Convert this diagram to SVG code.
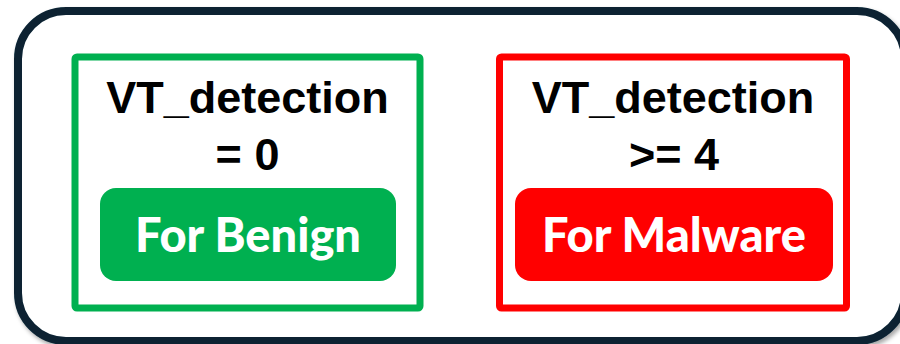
<svg xmlns="http://www.w3.org/2000/svg" width="900" height="344" viewBox="0 0 900 344">
<defs>
<filter id="sh" x="-5%" y="-5%" width="110%" height="115%">
<feDropShadow dx="2" dy="3" stdDeviation="2" flood-color="#000" flood-opacity="0.35"/>
</filter>
</defs>
<style>
.cond{font-family:"Liberation Sans",Arial,sans-serif;font-weight:bold;font-size:45px;fill:#000;text-anchor:middle}
.lbl{font-family:Lato,"Open Sans",sans-serif;font-weight:900;font-size:47px;fill:#fff;text-anchor:middle}
.box{fill:none;stroke-width:7}
</style>
<rect width="900" height="344" fill="#fff"/>
<g id="container">
<rect x="18" y="11" width="887" height="330" rx="48" fill="#fff" stroke="#082333" stroke-width="8" filter="url(#sh)"/>
</g>
<g id="benign">
<rect class="box" x="75" y="57" width="345" height="251" rx="2" stroke="#00b050"/>
<text class="cond" x="247.5" y="113">VT_detection</text>
<text class="cond" x="247.5" y="170">= 0</text>
<rect x="100" y="188" width="296" height="93" rx="16" fill="#00b050"/>
<text class="lbl" x="248" y="252">For Benign</text>
</g>
<g id="malware">
<rect class="box" x="499.5" y="57" width="347" height="251" rx="2" stroke="#ff0000"/>
<text class="cond" x="673" y="113">VT_detection</text>
<text class="cond" x="674" y="170">&gt;= 4</text>
<rect x="515" y="188" width="318" height="93" rx="16" fill="#ff0000"/>
<text class="lbl" x="674" y="252">For Malware</text>
</g>
<g id="connectors"></g>
</svg>
